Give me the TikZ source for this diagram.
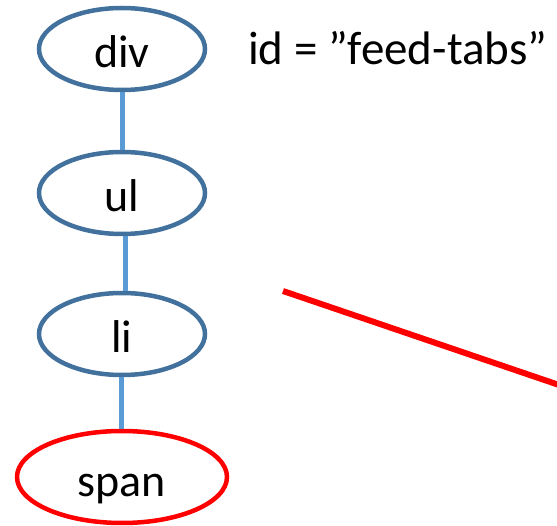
\documentclass[tikz,border=0pt]{standalone}
\usepackage{fontspec}
\setmainfont{Carlito}
\usetikzlibrary{shapes.geometric}
\definecolor{nodeblue}{HTML}{41719C}
\definecolor{linkblue}{HTML}{5B9BD5}
\definecolor{hired}{HTML}{FF0000}
\begin{document}
\begin{tikzpicture}[x=1pt,y=-1pt,
  tag/.style={ellipse, draw=nodeblue, line width=4.5pt, minimum width=166pt, minimum height=82pt, inner sep=0pt, text height=38pt, text depth=0pt, font=\fontsize{46}{50}\selectfont},
  hitag/.style={tag, draw=hired, minimum width=210pt, minimum height=92pt},
  link/.style={draw=linkblue, line width=5pt},
  redline/.style={draw=hired, line width=6pt}
]
\useasboundingbox (0,0) rectangle (557,526);
\clip (0,0) rectangle (557,526);
\node[tag] (div) at (122,49) {div};
\node[tag] (ul) at (122,193) {ul};
\node[tag] (li) at (122,334) {li};
\node[hitag] (span) at (122,477) {span};
\node[anchor=base west, inner sep=0pt, font=\fontsize{47}{50}\selectfont] (attr) at (248,65) {id = ”feed-tabs”};
\draw[link] (div.south) -- (ul.north);
\draw[link] ([xshift=3pt]ul.south) -- ([xshift=3pt]li.north);
\draw[link] ([xshift=-1pt]li.south) -- ([xshift=-1pt]span.north);
\coordinate (r1) at (283,291);
\coordinate (r2) at (562,386);
\draw[redline] (r1) -- (r2);
\end{tikzpicture}
\end{document}
